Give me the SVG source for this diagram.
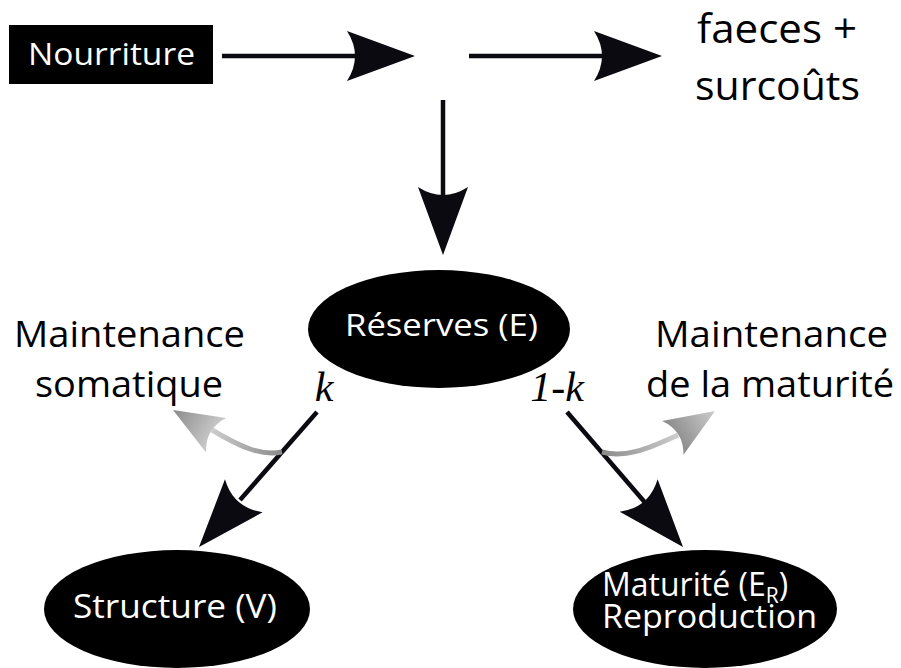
<svg xmlns="http://www.w3.org/2000/svg" width="901" height="668" viewBox="0 0 901 668">
<style>
.lbl{font-family:"Open Sans","Noto Sans","DejaVu Sans",sans-serif;fill:#000}
.wt{font-family:"Open Sans","Noto Sans","DejaVu Sans",sans-serif;fill:#fff}
.kk{font-family:"Liberation Serif","DejaVu Serif",serif;font-style:italic;fill:#000}
.ln{stroke:#0a0a10;stroke-width:4.5;fill:none}
</style>
<defs>
<path id="bh" d="M0,0 L-68,-25 Q-52,0 -68,25 Z" fill="#0a0a10"/>
<linearGradient id="gg" x1="0" y1="0" x2="1" y2="0">
<stop offset="0" stop-color="#cccccc"/>
<stop offset="1" stop-color="#8a8a8a"/>
</linearGradient>
<linearGradient id="gg2" x1="0" y1="0" x2="1" y2="0">
<stop offset="0" stop-color="#8a8a8a"/>
<stop offset="1" stop-color="#cccccc"/>
</linearGradient>
</defs>
<g id="connectors">
<line class="ln" x1="222" y1="56" x2="360" y2="56"/>
<use href="#bh" transform="translate(415,56)"/>
<line class="ln" x1="469" y1="56" x2="605" y2="56"/>
<use href="#bh" transform="translate(662,56)"/>
<line class="ln" x1="443" y1="100" x2="443" y2="200"/>
<use href="#bh" transform="translate(443,255) rotate(90)"/>
<line class="ln" x1="317" y1="412" x2="240" y2="500"/>
<use href="#bh" transform="translate(199,547) rotate(131.2)"/>
<line class="ln" x1="567" y1="412" x2="648" y2="506"/>
<use href="#bh" transform="translate(683,547) rotate(49.3)"/>
<path d="M282,452 C262,456 242,448 212,430" stroke="url(#gg)" stroke-width="5" fill="none"/>
<path d="M0,0 L-50,-20 Q-37,0 -50,20 Z" fill="url(#gg)" transform="translate(173,410) rotate(210.3)"/>
<path d="M602,452 C624,458 646,450 678,435" stroke="url(#gg2)" stroke-width="5" fill="none"/>
<path d="M0,0 L-50,-20 Q-37,0 -50,20 Z" fill="url(#gg2)" transform="translate(715,411) rotate(-32.4)"/>
</g>
<g id="nourriture">
<rect x="9" y="25" width="204" height="59" fill="#000"/>
<text class="wt" x="28" y="65" font-size="31" textLength="167" lengthAdjust="spacingAndGlyphs">Nourriture</text>
</g>
<g id="faeces">
<text class="lbl" x="697" y="43" font-size="40" textLength="160" lengthAdjust="spacingAndGlyphs">faeces +</text>
<text class="lbl" x="695" y="100" font-size="40" textLength="165" lengthAdjust="spacingAndGlyphs">surcoûts</text>
</g>
<g id="reserves">
<ellipse cx="439" cy="329" rx="131" ry="59" fill="#000"/>
<text class="wt" x="345" y="336" font-size="31" textLength="193" lengthAdjust="spacingAndGlyphs">Réserves (E)</text>
</g>
<g id="maint-som">
<text class="lbl" x="14" y="347" font-size="37" textLength="231" lengthAdjust="spacingAndGlyphs">Maintenance</text>
<text class="lbl" x="35" y="397" font-size="37" textLength="188" lengthAdjust="spacingAndGlyphs">somatique</text>
</g>
<g id="maint-mat">
<text class="lbl" x="655" y="347" font-size="37" textLength="233" lengthAdjust="spacingAndGlyphs">Maintenance</text>
<text class="lbl" x="646" y="397" font-size="37" textLength="248" lengthAdjust="spacingAndGlyphs">de la maturité</text>
</g>
<g id="labels-k">
<text class="kk" x="324" y="401" font-size="42" text-anchor="middle">k</text>
<text class="kk" x="557" y="401" font-size="42" text-anchor="middle">1-k</text>
</g>
<g id="structure">
<ellipse cx="177" cy="609" rx="133" ry="59" fill="#000"/>
<text class="wt" x="73" y="618" font-size="33" textLength="204" lengthAdjust="spacingAndGlyphs">Structure (V)</text>
</g>
<g id="maturite">
<ellipse cx="705" cy="609" rx="132" ry="59" fill="#000"/>
<text class="wt" x="602" y="596" font-size="32">Maturité (E<tspan font-size="21" dy="7">R</tspan><tspan dy="-7">)</tspan></text>
<text class="wt" x="602" y="628" font-size="32" textLength="215" lengthAdjust="spacingAndGlyphs">Reproduction</text>
</g>
</svg>
